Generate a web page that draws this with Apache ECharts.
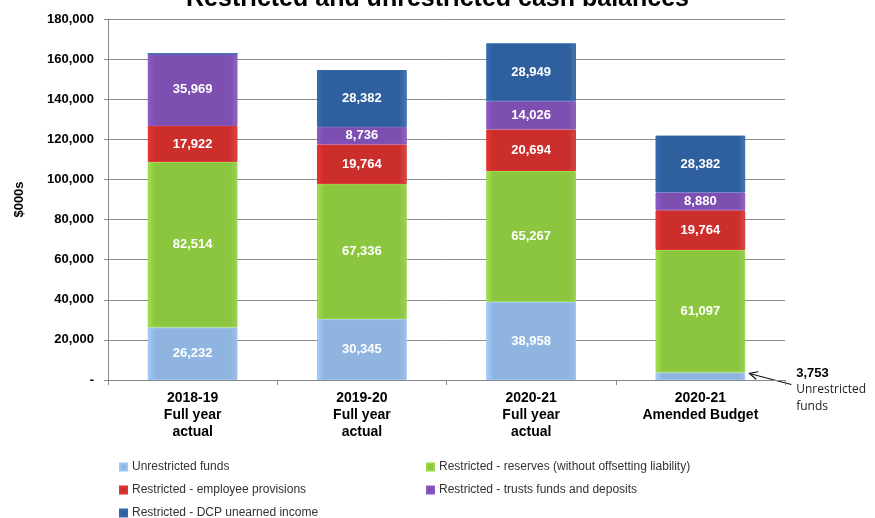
<!DOCTYPE html>
<html>
<head>
<meta charset="utf-8">
<script src="https://cdn.jsdelivr.net/npm/echarts@6/dist/echarts.min.js"></script>
<style>
  html, body { margin: 0; padding: 0; background: #fff; }
  #chart { width: 875px; height: 518px; }
</style>
</head>
<body>
<div id="chart"></div>
<script>
// categories (x axis)
const categories = [
  "2018-19\nFull year\nactual",
  "2019-20\nFull year\nactual",
  "2020-21\nFull year\nactual",
  "2020-21\nAmended Budget",
];

// series values, $000s
const unrestricted = [26232, 30345, 38958, 3753];
const reserves = [82514, 67336, 65267, 61097];
const employee = [17922, 19764, 20694, 19764];
const trusts = [35969, 8736, 14026, 8880];
const dcp = [0, 28382, 28949, 28382];

const seriesNames = [
  "Unrestricted funds",
  "Restricted - reserves (without offsetting liability)",
  "Restricted - employee provisions",
  "Restricted - trusts funds and deposits",
  "Restricted - DCP unearned income",
];

const COLORS = ["#8fb4e0", "#8cc63f", "#cc2e2b", "#7c4fb0", "#2e5f9e"];

const FONT = "Liberation Sans, Arial, sans-serif";

function fmt(v) {
  return new Intl.NumberFormat("en-US").format(v);
}

function barColor(c) {
  // slight gloss: lighter at the edges
  return new echarts.graphic.LinearGradient(0, 0, 1, 0, [
    { offset: 0, color: echarts.color.lift(c, -0.15) },
    { offset: 0.08, color: c },
    { offset: 0.92, color: c },
    { offset: 1, color: echarts.color.lift(c, 0.15) },
  ]);
}

function makeSeries(name, values, color, idx) {
  return {
    name,
    type: "bar",
    stack: "total",
    barWidth: "53%",
    itemStyle: {
      color: barColor(color),
      borderColor: echarts.color.lift(color, -0.1),
      borderWidth: 1,
    },
    label: {
      show: true,
      position: "inside",
      color: "#fff",
      fontFamily: FONT,
      fontWeight: "bold",
      fontSize: 13,
      formatter: ({ value }) => (value > 0 ? fmt(value) : ""),
    },
    data: values.map((v, i) => {
      // the tiny budget slice gets its label outside, with an arrow
      if (idx === 0 && i === 3) {
        return {
          value: v,
          label: {
            position: "right",
            offset: [46, 14],
            color: "#000",
            formatter: ({ value }) => "{v|" + fmt(value) + "}\n{t|Unrestricted}\n{t|funds}",
            rich: {
              v: { fontFamily: FONT, fontWeight: "bold", fontSize: 13, color: "#000", lineHeight: 16 },
              t: { fontFamily: "Open Sans, sans-serif", fontWeight: "normal", fontSize: 12, color: "#222", lineHeight: 17 },
            },
          },
        };
      }
      return v;
    }),
  };
}

const series = [
  makeSeries(seriesNames[0], unrestricted, COLORS[0], 0),
  makeSeries(seriesNames[1], reserves, COLORS[1], 1),
  makeSeries(seriesNames[2], employee, COLORS[2], 2),
  makeSeries(seriesNames[3], trusts, COLORS[3], 3),
  makeSeries(seriesNames[4], dcp, COLORS[4], 4),
];

// one legend per entry so the two columns line up
const legendPos = [
  [114, 456],
  [421, 456],
  [114, 479],
  [421, 479],
  [114, 502],
];
const legends = seriesNames.map((name, i) => ({
  left: legendPos[i][0],
  top: legendPos[i][1],
  itemWidth: 7,
  itemHeight: 7,
  icon: "rect",
  textStyle: { fontFamily: FONT, fontSize: 12, color: "#333" },
  data: [name],
}));

const chart = echarts.init(document.getElementById("chart"));
chart.setOption({
  animation: false,
  color: COLORS,
  title: {
    text: "Restricted and unrestricted cash balances",
    left: "center",
    top: -18,
    textStyle: { fontFamily: FONT, fontWeight: "bold", fontSize: 25, color: "#000" },
  },
  grid: { left: 108, right: 90, top: 19, bottom: 138 },
  legend: legends,
  xAxis: {
    type: "category",
    data: categories,
    axisLine: { lineStyle: { color: "#888" } },
    axisTick: { show: true, length: 5, lineStyle: { color: "#888" } },
    axisLabel: {
      color: "#000",
      fontFamily: FONT,
      fontWeight: "bold",
      fontSize: 14,
      lineHeight: 17,
      margin: 10,
      interval: 0,
    },
  },
  yAxis: {
    type: "value",
    min: 0,
    max: 180000,
    interval: 20000,
    name: "$000s",
    nameLocation: "middle",
    nameGap: 82,
    nameRotate: 90,
    nameTextStyle: { fontFamily: FONT, fontWeight: "bold", fontSize: 13, color: "#000" },
    axisLine: { show: true, lineStyle: { color: "#888" } },
    axisTick: { show: true, length: 4, lineStyle: { color: "#888" } },
    splitLine: { lineStyle: { color: "#8c8c8c" } },
    axisLabel: {
      color: "#000",
      fontFamily: FONT,
      fontWeight: "bold",
      fontSize: 13,
      margin: 14,
      formatter: (v) => (v === 0 ? "-" : fmt(v)),
    },
  },
  series,
});

// arrow from the annotation to the tiny unrestricted slice of the budget bar
const tip = chart.convertToPixel({ gridIndex: 0 }, [3, unrestricted[3]]);
const barHalf = 45;
const x1 = tip[0] + barHalf + 4;
const y1 = tip[1] + 1;
const x0 = x1 + 42;
const y0 = y1 + 11;
const ang = Math.atan2(y1 - y0, x1 - x0);
const head = 9;
chart.setOption({
  graphic: [
    {
      type: "polyline",
      shape: { points: [[x0, y0], [x1, y1]] },
      style: { stroke: "#111", lineWidth: 1.2 },
    },
    {
      type: "polyline",
      shape: {
        points: [
          [x1 - head * Math.cos(ang - 0.45), y1 - head * Math.sin(ang - 0.45)],
          [x1, y1],
          [x1 - head * Math.cos(ang + 0.45), y1 - head * Math.sin(ang + 0.45)],
        ],
      },
      style: { stroke: "#111", lineWidth: 1.2, fill: null },
    },
  ],
});
</script>
</body>
</html>
